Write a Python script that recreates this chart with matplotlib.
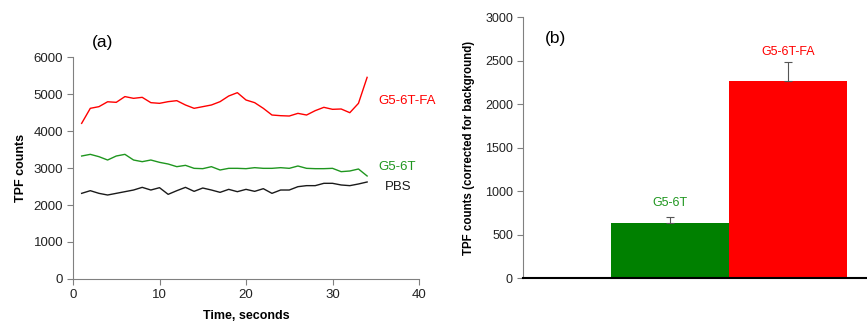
import matplotlib
matplotlib.use("Agg")
import matplotlib.pyplot as plt
import numpy as np

plt.rcParams['font.family'] = ['Liberation Sans', 'DejaVu Sans']

time_s = list(range(1, 35))
fa_counts = [4207, 4613, 4658, 4790, 4775, 4930, 4883, 4910, 4766, 4748, 4793, 4820,
             4703, 4613, 4658, 4703, 4793, 4946, 5036, 4838, 4766, 4613, 4432, 4414,
             4405, 4477, 4432, 4550, 4640, 4586, 4595, 4495, 4748, 5450]
g5_counts = [3324, 3369, 3306, 3216, 3324, 3369, 3216, 3171, 3216, 3153, 3108, 3036,
             3072, 2991, 2982, 3036, 2946, 2991, 2991, 2982, 3009, 2991, 2991, 3009,
             2991, 3054, 2991, 2982, 2982, 2991, 2901, 2919, 2973, 2784]
pbs_counts = [2315, 2387, 2315, 2270, 2315, 2360, 2405, 2477, 2405, 2468, 2288, 2387,
              2477, 2369, 2459, 2405, 2342, 2423, 2360, 2423, 2369, 2441, 2315, 2405,
              2405, 2495, 2523, 2523, 2586, 2586, 2541, 2523, 2568, 2622]

bar_labels = ["G5-6T", "G5-6T-FA"]
bar_values = [636, 2268]
bar_errors = [65, 215]

RED = "#ff0000"
GREEN = "#008000"
LGREEN = "#1f961f"
GRAY = "#808080"

fig = plt.figure(figsize=(8.67, 3.28), dpi=100)

# ---- panel (a)
ax1 = fig.add_axes([0.0842, 0.1494, 0.4833 - 0.0842, 0.8262 - 0.1494])
ax1.plot(time_s, fa_counts, color=RED, lw=1.0)
ax1.plot(time_s, g5_counts, color=LGREEN, lw=1.0)
ax1.plot(time_s, pbs_counts, color="#1a1a1a", lw=1.0)
ax1.set_xlim(0, 40)
ax1.set_ylim(0, 6000)
ax1.set_xticks([0, 10, 20, 30, 40])
ax1.set_yticks(range(0, 6001, 1000))
for s in ["top", "right"]:
    ax1.spines[s].set_visible(False)
for s in ["left", "bottom"]:
    ax1.spines[s].set_color(GRAY)
    ax1.spines[s].set_linewidth(0.8)
ax1.tick_params(direction="out", length=4, color=GRAY, labelsize=9.5, pad=3,
                labelcolor="#222222")
ax1.set_xlabel("Time, seconds", fontsize=9, fontweight="bold", labelpad=7)
ax1.set_ylabel("TPF counts", fontsize=9, fontweight="bold", labelpad=5)
ax1.text(35.3, 4811, "G5-6T-FA", color=RED, fontsize=9.5, va="center", ha="left", clip_on=False)
ax1.text(35.3, 3027, "G5-6T", color=LGREEN, fontsize=9.5, va="center", ha="left", clip_on=False)
ax1.text(36.0, 2486, "PBS", color="#1a1a1a", fontsize=9.5, va="center", ha="left", clip_on=False)
ax1.text(0.085, 1.065, "(a)", transform=ax1.transAxes, fontsize=12.5, ha="center", va="center")

# ---- panel (b)
ax2 = fig.add_axes([0.6029, 0.1515, 0.3968, 0.9473 - 0.1515])
xpos = [1, 2]
ax2.bar(xpos, bar_values, width=1.0, color=[GREEN, RED], edgecolor="none")
ax2.errorbar(xpos, bar_values, yerr=[[0, 0], bar_errors], fmt="none",
             ecolor="#555555", elinewidth=0.8, capsize=3, capthick=0.8)
ax2.set_xlim(-0.25, 2.67)
ax2.set_ylim(0, 3000)
ax2.set_yticks(range(0, 3001, 500))
ax2.set_xticks([])
for s in ["top", "right"]:
    ax2.spines[s].set_visible(False)
ax2.spines["left"].set_color(GRAY)
ax2.spines["left"].set_linewidth(0.8)
ax2.spines["bottom"].set_color("black")
ax2.spines["bottom"].set_linewidth(1.5)
ax2.tick_params(axis="y", direction="out", length=4, color=GRAY, labelsize=9, pad=3,
                labelcolor="#222222")
ax2.set_ylabel("TPF counts (corrected for background)", fontsize=8.3, fontweight="bold", labelpad=7)
ax2.text(1, 866, bar_labels[0], color=LGREEN, fontsize=9, ha="center", va="center")
ax2.text(2, 2602, bar_labels[1], color=RED, fontsize=9, ha="center", va="center")
ax2.text(0.094, 0.92, "(b)", transform=ax2.transAxes, fontsize=12.5, ha="center", va="center")

fig.savefig("out.png", dpi=100)
